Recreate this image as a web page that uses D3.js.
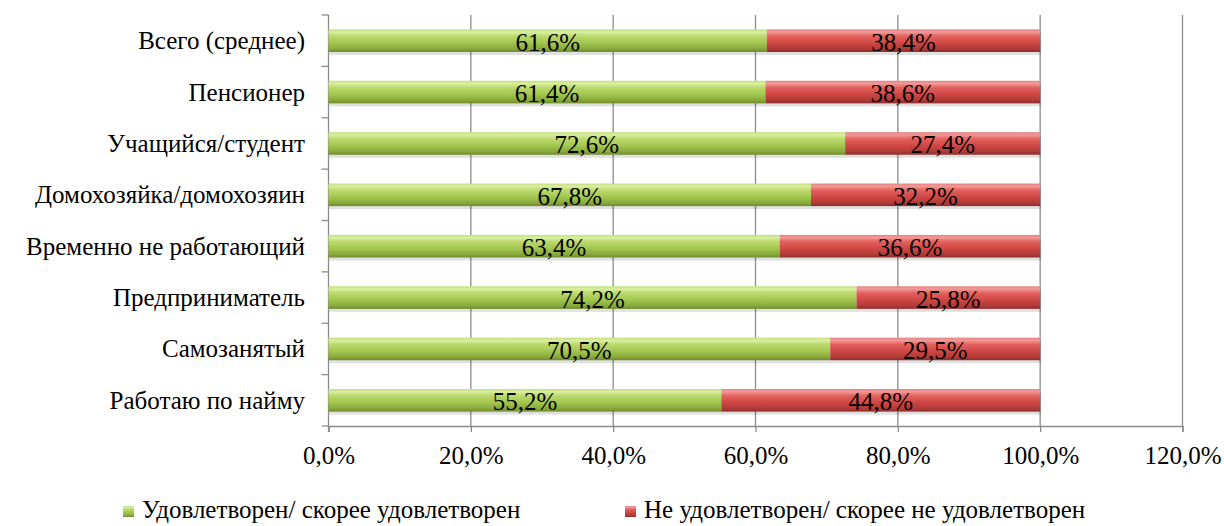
<!DOCTYPE html>
<html>
<head>
<meta charset="utf-8">
<script src="https://cdn.jsdelivr.net/npm/d3@7"></script>
</head>
<body style="margin:0;background:#fff">
<svg id="chart" width="1224" height="526"></svg>
<script>
const categories = ["Всего (среднее)","Пенсионер","Учащийся/студент","Домохозяйка/домохозяин","Временно не работающий","Предприниматель","Самозанятый","Работаю по найму"];
const satisfied = [61.6,61.4,72.6,67.8,63.4,74.2,70.5,55.2];
const notSatisfied = [38.4,38.6,27.4,32.2,36.6,25.8,29.5,44.8];
const seriesNames = ["Удовлетворен/ скорее удовлетворен","Не удовлетворен/ скорее не удовлетворен"];
const xTicks = [0,20,40,60,80,100,120];

const svg = d3.select("#chart");
const pLeft = 328.5, pRight = 1182.5, pTop = 15, pBottom = 426;
const fmt = v => v.toFixed(1).replace(".", ",") + "%";
const FF = '"Liberation Serif"';
const styleText = sel => sel.style("font-family",FF).style("font-size","25px").attr("fill","#000");

const x = d3.scaleLinear().domain([0,120]).range([pLeft,pRight]);
const y = d3.scaleBand().domain(categories).range([pTop,pBottom]).paddingInner(0.56).paddingOuter(0.28);

const defs = svg.append("defs");
function grad(id, stops){
  const g = defs.append("linearGradient").attr("id",id).attr("x1",0).attr("y1",0).attr("x2",0).attr("y2",1);
  stops.forEach(s=>g.append("stop").attr("offset",s[0]).attr("stop-color",s[1]));
}
grad("gGreen",[[0,"#c3dd7e"],[0.12,"#d9efa0"],[0.3,"#bcd96d"],[0.6,"#a2c650"],[0.85,"#8aaa3c"],[1,"#6f8b2c"]]);
grad("gRed",[[0,"#e28482"],[0.12,"#f29997"],[0.3,"#e4615e"],[0.6,"#cf4744"],[0.85,"#b13b38"],[1,"#8e2e2c"]]);

// gridlines
svg.append("g").selectAll("line").data(xTicks.filter(t=>t>0)).join("line")
  .attr("x1",d=>x(d)).attr("x2",d=>x(d)).attr("y1",pTop).attr("y2",pBottom)
  .attr("stroke","#8c8c8c").attr("stroke-width",1.3);

// x axis
const xAxis = d3.axisBottom(x).tickValues(xTicks).tickFormat(d=>fmt(d)).tickSize(6).tickPadding(14);
const gx = svg.append("g").attr("transform",`translate(0,${pBottom})`).call(xAxis);
gx.attr("font-family",null).attr("font-size",null);
gx.select(".domain").attr("stroke","#8c8c8c").attr("stroke-width",1.3);
gx.selectAll(".tick line").attr("stroke","#8c8c8c").attr("stroke-width",1.3);
styleText(gx.selectAll("text"));

// y axis line + ticks at band boundaries
const bounds = d3.range(categories.length+1).map(i=>pTop + i*(pBottom-pTop)/categories.length);
svg.append("line").attr("x1",pLeft).attr("x2",pLeft).attr("y1",pTop).attr("y2",pBottom+6).attr("stroke","#8c8c8c").attr("stroke-width",1.3);
svg.append("g").selectAll("line").data(bounds).join("line")
  .attr("x1",pLeft-7).attr("x2",pLeft).attr("y1",d=>d).attr("y2",d=>d)
  .attr("stroke","#8c8c8c").attr("stroke-width",1.3);

// category labels
categories.forEach(c=>{
  svg.append("text").attr("x",305).attr("y",y(c)+y.bandwidth()/2+8.5)
    .style("font-family",FF).style("font-size","25px").attr("text-anchor","end").text(c);
});

// bars
const rows = categories.map((c,i)=>({c, a:satisfied[i], b:notSatisfied[i]}));
const bars = svg.append("g");
bars.selectAll("rect.sh").data(rows).join("rect").attr("class","sh")
  .attr("x",d=>x(0)+1).attr("y",d=>y(d.c)+3).attr("width",d=>x(d.a+d.b)-x(0)).attr("height",y.bandwidth())
  .attr("fill","#000").attr("opacity",0.12);
bars.selectAll("rect.g").data(rows).join("rect").attr("class","g")
  .attr("x",x(0)).attr("y",d=>y(d.c)).attr("width",d=>x(d.a)-x(0)).attr("height",y.bandwidth())
  .attr("fill","url(#gGreen)");
bars.selectAll("rect.r").data(rows).join("rect").attr("class","r")
  .attr("x",d=>x(d.a)).attr("y",d=>y(d.c)).attr("width",d=>x(d.a+d.b)-x(d.a)).attr("height",y.bandwidth())
  .attr("fill","url(#gRed)");

// value labels
rows.forEach(d=>{
  svg.append("text").attr("x",x(d.a/2)).attr("y",y(d.c)+y.bandwidth()/2+10)
    .style("font-family",FF).style("font-size","25px").attr("text-anchor","middle").text(fmt(d.a));
  svg.append("text").attr("x",x(d.a+d.b/2)).attr("y",y(d.c)+y.bandwidth()/2+10)
    .style("font-family",FF).style("font-size","25px").attr("text-anchor","middle").text(fmt(d.b));
});

// legend
const legX = [123, 625];
const legFill = ["url(#gGreen)","url(#gRed)"];
seriesNames.forEach((n,i)=>{
  svg.append("rect").attr("x",legX[i]).attr("y",506).attr("width",11).attr("height",11).attr("fill",legFill[i]);
  svg.append("text").attr("x",legX[i]+19).attr("y",518).style("font-family",FF).style("font-size","25px").text(n);
});
</script>
</body>
</html>
